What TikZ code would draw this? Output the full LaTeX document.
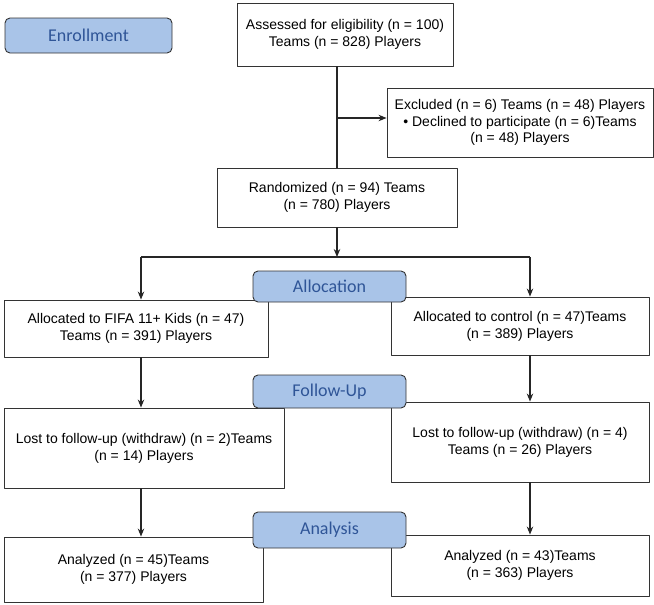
\documentclass[tikz,border=0pt]{standalone}
\usepackage{fontspec}
\setmainfont{Liberation Sans}
\newfontfamily\stagefont{Carlito}
\usetikzlibrary{arrows.meta}
\definecolor{stageblue}{HTML}{A9C4E8}
\definecolor{stagetext}{HTML}{2F5597}
\definecolor{edgegray}{HTML}{333333}
\tikzset{
  every picture/.style={
    line join=round,
    >={Stealth[length=8pt,width=6.5pt]},   % same tip for every arrow
  },
  flowbox/.style={draw=edgegray, line width=0.9pt, fill=white, align=center,
    inner sep=2pt, font=\fontsize{14}{16.8}\selectfont},
  stage/.style={draw=edgegray, line width=0.9pt, fill=stageblue, rounded corners=5pt,
    text=stagetext, minimum width=153pt, font=\stagefont\fontsize{18}{20}\selectfont},
  link/.style={line width=1.2pt, draw=black!85},
}

\begin{document}
\begin{tikzpicture}[x=1pt,y=-1pt]
    \useasboundingbox (0,0) rectangle (654,605);

    % Enrollment
    \node[flowbox, minimum width=216pt, minimum height=63pt] (assess) at (345,34.5)
        {Assessed for eligibility (n = 100)\\Teams (n = 828) Players};
    \node[flowbox, minimum width=266pt, minimum height=69pt] (excl) at (520,122.5)
        {Excluded (n = 6) Teams (n = 48) Players\\\textbullet{} Declined to participate (n = 6)Teams\\(n = 48) Players};
    \node[flowbox, minimum width=240pt, minimum height=59pt] (rand) at (337,197.5)
        {Randomized (n = 94) Teams\\(n = 780) Players};

    % Allocation
    \node[flowbox, minimum width=264pt, minimum height=57pt] (allocL) at (136,328.5)
        {Allocated to FIFA 11+ Kids (n = 47)\\Teams (n = 391) Players};
    \node[flowbox, minimum width=258pt, minimum height=58pt] (allocR) at (520,326)
        {Allocated to control (n = 47)Teams\\(n = 389) Players};

    % Follow-Up
    \node[flowbox, minimum width=280pt, minimum height=80pt] (lostL) at (144,448)
        {Lost to follow-up (withdraw) (n = 2)Teams\\(n = 14) Players};
    \node[flowbox, minimum width=258pt, minimum height=80pt] (lostR) at (520,442)
        {Lost to follow-up (withdraw) (n = 4)\\Teams (n = 26) Players};

    % Analysis
    \node[flowbox, minimum width=259pt, minimum height=65pt] (anaL) at (133.5,569.5)
        {Analyzed (n = 45)Teams\\(n = 377) Players};
    \node[flowbox, minimum width=258pt, minimum height=61pt] (anaR) at (520,565.5)
        {Analyzed (n = 43)Teams\\(n = 363) Players};

    % Connectors
    \coordinate (split) at (337,257);
    \coordinate (splitL) at (141,257);
    \coordinate (splitR) at (530,257);
    \draw[link] (assess.south -| rand.north) -- (rand.north);
    \draw[link,->] ([yshift=4.5pt]rand.north |- excl.west) -- ([yshift=4.5pt]excl.west);
    \draw[link,->] (rand.south) -- (split);
    \draw[link] (splitL) -- (splitR);
    \draw[link,->] (splitL) -- (splitL |- allocL.north);
    \draw[link,->] (splitR) -- (splitR |- allocR.north);
    \draw[link,->] (allocL.south -| splitL) -- (splitL |- lostL.north);
    \draw[link,->] (allocR.south -| splitR) -- (splitR |- lostR.north);
    \draw[link,->] (lostL.south -| splitL) -- (splitL |- anaL.north);
    \draw[link,->] (lostR.south -| splitR) -- (splitR |- anaR.north);

    % Stage labels
    \node[stage, minimum width=167pt, minimum height=35pt] (enroll) at (88.5,35.5) {Enrollment};
    \node[stage, minimum height=31pt] (allocation) at (329.5,286.5) {Allocation};
    \node[stage, minimum height=33pt] (followup) at (329.5,391.5) {Follow-Up};
    \node[stage, minimum height=36pt] (analysis) at (329.5,530) {Analysis};
\end{tikzpicture}
\end{document}
